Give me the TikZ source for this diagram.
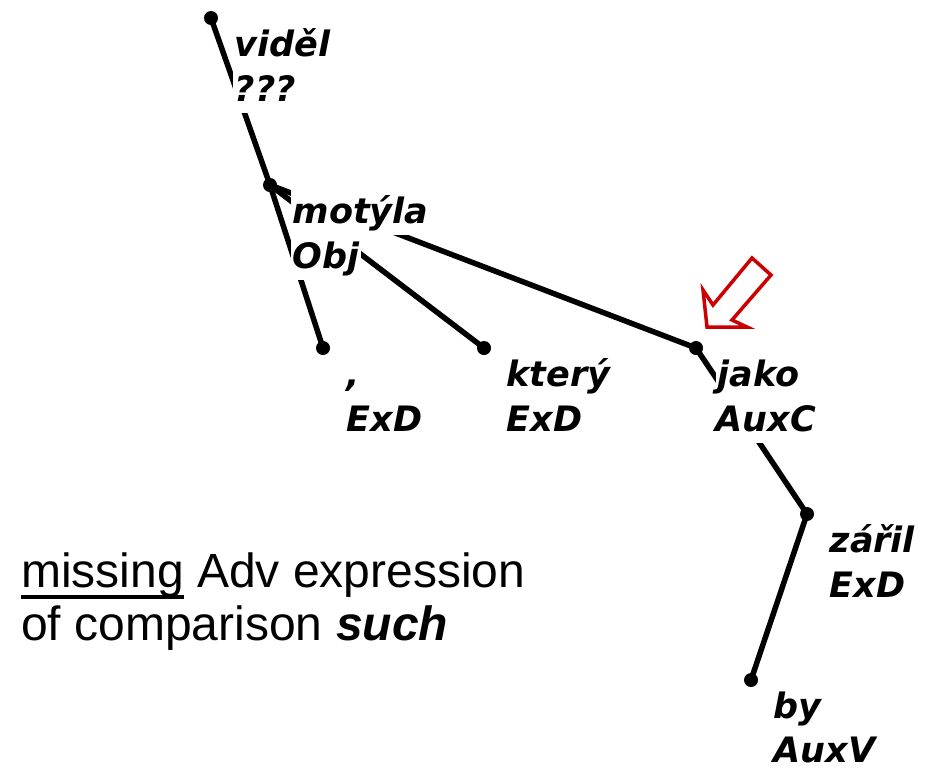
\documentclass[tikz,border=0pt]{standalone}
\usepackage{fontspec}
\setmainfont{Liberation Sans}
\newfontfamily\lblfont{DejaVu Sans}
\definecolor{arrowred}{RGB}{204,0,0}
\newcommand\thickul[1]{\setbox0=\hbox{#1}\rlap{\rule[-12pt]{\wd0}{4pt}}\box0\relax}
\tikzset{
  dot/.style={circle,fill=black,inner sep=0pt,minimum size=14pt},
  edge/.style={line width=5.5pt},
  lbl/.style={anchor=base west,fill=white,inner xsep=1.5pt,inner ysep=0pt,
    text height=33pt,text depth=12pt,
    font={\lblfont\bfseries\itshape\fontsize{35}{45}\selectfont}},
  note/.style={anchor=base west,inner sep=0pt,
    font={\fontsize{48}{53}\selectfont}},
  hollowarrow/.style={draw=arrowred,line width=3.5pt,fill=white,line join=miter}
}
\begin{document}
\begin{tikzpicture}[x=1pt,y=-1pt]
\useasboundingbox (0,0) rectangle (928,769);
% dots
\node[dot] (videl) at (211,18) {};
\node[dot] (motyla) at (270,185) {};
\node[dot] (comma) at (323,348) {};
\node[dot] (ktery) at (484,348) {};
\node[dot] (jako) at (696,348) {};
\node[dot] (taril) at (807,514) {};
\node[dot] (by) at (751,680) {};
% edges
\draw[edge] (videl.center) -- (motyla.center);
\draw[edge] (motyla.center) -- (comma.center);
\draw[edge] (motyla.center) -- (ktery.center);
\draw[edge] (motyla.center) -- (jako.center);
\draw[edge] (jako.center) -- (taril.center);
\draw[edge] (taril.center) -- (by.center);
% labels
\node[lbl] (videlA) at ([shift={(22,38)}]videl.center) {viděl};
\node[lbl] (videlB) at ([shift={(22,83)}]videl.center) {???};
\node[lbl] (motylaA) at ([shift={(21,38)}]motyla.center) {motýla};
\node[lbl] (motylaB) at ([shift={(21,83)}]motyla.center) {Obj};
\node[lbl] (commaA) at ([shift={(22,38)}]comma.center) {,};
\node[lbl] (commaB) at ([shift={(22,83)}]comma.center) {ExD};
\node[lbl] (kteryA) at ([shift={(21,38)}]ktery.center) {který};
\node[lbl] (kteryB) at ([shift={(21,83)}]ktery.center) {ExD};
\node[lbl] (jakoA) at ([shift={(20,38)}]jako.center) {jako};
\node[lbl] (jakoB) at ([shift={(18,83)}]jako.center) {AuxC};
\node[lbl] (tarilA) at ([shift={(21,38)}]taril.center) {zářil};
\node[lbl] (tarilB) at ([shift={(21,83)}]taril.center) {ExD};
\node[lbl] (byA) at ([shift={(21,38)}]by.center) {by};
\node[lbl,text depth=2pt] (byB) at ([shift={(21,82)}]by.center) {AuxV};
% red hollow arrow
\draw[hollowarrow] (707,327) -- (703,290) -- (713,305) -- (752,258)
  -- (771,275) -- (732,320) -- (747,327) -- cycle;
% note
\node[note] (note1) at (21,587) {\thickul{missing} Adv expression};
\node[note] (note2) at (21,640) {of comparison \textbf{\textit{such}}};
\end{tikzpicture}
\end{document}
